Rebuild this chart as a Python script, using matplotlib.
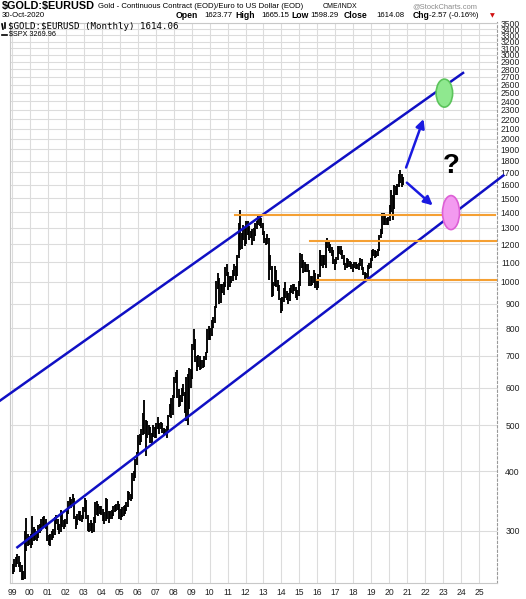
"""Gold priced in euros, monthly bars with channel/annotation overlay - saved as out.png."""

import numpy as np
import matplotlib.pyplot as plt
from matplotlib.patches import Ellipse

# monthly bars, Jan 1999 .. Oct 2020 (EUR per oz)
FIRST_YEAR = 1999
LOWS = [
    243, 246, 252, 255, 252, 246, 236, 236, 238, 272, 279, 280,   # 1999
    276, 280, 286, 287, 285, 290, 297, 300, 306, 305, 302, 286,   # 2000
    280, 279, 287, 290, 294, 310, 301, 296, 298, 305, 303, 305,   # 2001
    310, 325, 336, 335, 338, 318, 302, 308, 316, 314, 313, 318,   # 2002
    328, 318, 300, 298, 300, 297, 298, 312, 324, 322, 325, 324,   # 2003
    315, 310, 315, 318, 312, 318, 318, 322, 328, 330, 332, 318,   # 2004
    316, 320, 322, 326, 330, 336, 348, 346, 350, 382, 388, 412,   # 2005
    430, 455, 460, 478, 480, 431, 470, 476, 458, 455, 472, 470,   # 2006
    470, 492, 480, 492, 482, 474, 476, 470, 488, 520, 518, 525,   # 2007
    570, 612, 570, 545, 548, 560, 575, 530, 510, 500, 540, 600,   # 2008
    625, 720, 680, 650, 662, 654, 656, 660, 664, 686, 710, 755,   # 2009
    755, 770, 800, 820, 880, 965, 900, 905, 950, 940, 975, 1030,  # 2010
    960, 975, 995, 1005, 1030, 1010, 1030, 1125, 1170, 1175, 1225, 1190,  # 2011
    1200, 1255, 1225, 1235, 1195, 1220, 1250, 1290, 1320, 1310, 1300, 1255,  # 2012
    1210, 1195, 1200, 1010, 1060, 930, 935, 980, 975, 955, 915, 862,  # 2013
    868, 908, 925, 918, 900, 910, 950, 945, 955, 925, 915, 935,   # 2014
    980, 1072, 1045, 1050, 1050, 1050, 980, 980, 985, 995, 970, 962,  # 2015
    970, 1025, 1080, 1070, 1085, 1070, 1180, 1160, 1150, 1135, 1090, 1060,  # 2016
    1090, 1110, 1145, 1140, 1115, 1085, 1060, 1070, 1075, 1075, 1065, 1050,  # 2017
    1070, 1065, 1065, 1060, 1080, 1060, 1035, 1015, 1020, 1020, 1065, 1070,  # 2018
    1105, 1135, 1125, 1130, 1135, 1160, 1235, 1260, 1320, 1320, 1315, 1320,  # 2019
    1345, 1400, 1350, 1425, 1525, 1525, 1580, 1615, 1585, 1598,   # 2020
]
HIGHS = [
    255, 262, 264, 268, 266, 258, 254, 247, 300, 319, 296, 292,   # 1999
    296, 322, 305, 302, 300, 309, 310, 318, 320, 322, 318, 312,   # 2000
    294, 296, 300, 302, 320, 324, 318, 310, 332, 326, 316, 318,   # 2001
    332, 346, 354, 350, 358, 352, 322, 325, 330, 330, 324, 336,   # 2002
    352, 348, 324, 312, 316, 312, 320, 344, 346, 342, 338, 338,   # 2003
    334, 328, 352, 350, 330, 330, 332, 338, 340, 342, 346, 342,   # 2004
    334, 336, 338, 340, 345, 364, 362, 358, 396, 400, 424, 440,   # 2005
    478, 480, 490, 530, 566, 512, 510, 500, 495, 482, 500, 495,   # 2006
    506, 520, 506, 508, 506, 494, 492, 498, 526, 555, 570, 580,   # 2007
    630, 648, 652, 595, 580, 598, 610, 588, 630, 640, 660, 655,   # 2008
    740, 797, 760, 700, 702, 700, 685, 685, 700, 712, 795, 810,   # 2009
    800, 830, 845, 890, 1005, 1045, 1020, 990, 990, 1000, 1075, 1090,  # 2010
    1050, 1030, 1030, 1060, 1090, 1080, 1140, 1330, 1420, 1270, 1320, 1300,  # 2011
    1345, 1340, 1310, 1280, 1290, 1300, 1330, 1345, 1385, 1385, 1360, 1330,  # 2012
    1280, 1240, 1260, 1235, 1140, 1080, 1000, 1080, 1060, 1010, 985, 925,  # 2013
    930, 970, 1000, 955, 950, 970, 985, 992, 990, 975, 960, 1005,  # 2014
    1150, 1145, 1110, 1100, 1090, 1090, 1060, 1030, 1030, 1060, 1045, 1010,  # 2015
    1040, 1170, 1140, 1140, 1140, 1225, 1235, 1215, 1200, 1185, 1170, 1120,  # 2016
    1130, 1190, 1190, 1190, 1170, 1140, 1095, 1125, 1120, 1105, 1100, 1090,  # 2017
    1100, 1100, 1092, 1095, 1125, 1115, 1075, 1050, 1045, 1085, 1095, 1125,  # 2018
    1165, 1175, 1165, 1160, 1175, 1255, 1290, 1395, 1395, 1380, 1360, 1370,  # 2019
    1450, 1560, 1520, 1600, 1590, 1610, 1690, 1720, 1690, 1665,   # 2020
]

# hand-drawn overlay: (year, price) pairs
UPPER_CHANNEL = [(1998.33, 563), (2024.11, 2750)]
LOWER_CHANNEL = [(1999.30, 277), (2026.35, 1674)]
SUPPORT_LINES = [  # (price, x start, x end)
    (1383, 2011.42, 2025.89),
    (1218, 2015.59, 2026.06),
    (1010, 2015.96, 2026.06),
]
ARROW_UP = [(2020.94, 1740), (2021.91, 2200)]
ARROW_DOWN = [(2020.98, 1617), (2022.42, 1449)]
TARGET_HIGH = (2023.07, 2494)
TARGET_LOW = (2023.44, 1399)
QUESTION_AT = (2023.46, 1757)

YEARS = list(range(1999, 2026))
YEAR_LABELS = [f"{y % 100:02d}" for y in YEARS]
PRICE_TICKS = [300, 400, 500, 600, 700, 800, 900] + list(range(1000, 3600, 100))

BLUE = "#1010c4"
ORANGE = "#f5a033"
GRID = "#dcdcdc"
W, H = 526, 599


def main():
    plt.rcParams.update({
        "font.family": ["Liberation Sans", "DejaVu Sans"],
    })

    fig = plt.figure(figsize=(W / 100, H / 100), dpi=100)
    ax = fig.add_axes([10 / W, 1 - 583 / H, 487 / W, (583 - 22.5) / H])

    ax.set_yscale("log")
    ax.set_xlim(1998.89, 2026.0)
    ax.set_ylim(233, 3510)

    # price bars
    n = len(LOWS)
    xs = FIRST_YEAR + (np.arange(n) + 0.5) / 12
    ax.vlines(xs, LOWS, HIGHS, color="black", linewidth=1.35, zorder=3)

    # channel
    for line in (UPPER_CHANNEL, LOWER_CHANNEL):
        (x0, y0), (x1, y1) = line
        ax.plot([x0, x1], [y0, y1], color=BLUE, linewidth=1.8,
                clip_on=False, zorder=4)

    for price, x0, x1 in SUPPORT_LINES:
        ax.plot([x0, x1], [price, price], color=ORANGE, linewidth=1.5, zorder=4)

    for (x0, y0), (x1, y1) in (ARROW_UP, ARROW_DOWN):
        ax.annotate("", xy=(x1, y1), xytext=(x0, y0),
                    arrowprops=dict(arrowstyle="-|>", color="#1a1ae0", lw=1.8,
                                    mutation_scale=13, shrinkA=0, shrinkB=0),
                    zorder=5)

    # target ellipses, sized in axes fraction so they stay round-ish on log scale
    to_axes = ax.transData + ax.transAxes.inverted()
    ax_w = 487.0
    ax_h = 583 - 22.5
    for (cx, cy), (w, h), fc, ec in (
        (TARGET_HIGH, (16.5, 28), "#8fe88f", "#5cc45c"),
        (TARGET_LOW, (17, 34), "#f39af0", "#dd5fd6"),
    ):
        ex, ey = to_axes.transform((cx, cy))
        ax.add_patch(Ellipse((ex, ey), w / ax_w, h / ax_h, transform=ax.transAxes,
                             facecolor=fc, edgecolor=ec, linewidth=1.2, zorder=5))

    ax.text(QUESTION_AT[0], QUESTION_AT[1], "?", fontsize=20, fontweight="bold",
            ha="center", va="center", color="black", zorder=6)

    # axes styling
    ax.set_xticks(YEARS)
    ax.set_xticklabels(YEAR_LABELS)
    ax.set_yticks(PRICE_TICKS)
    ax.set_yticklabels([str(v) for v in PRICE_TICKS])
    ax.minorticks_off()
    ax.yaxis.tick_right()
    ax.tick_params(axis="y", length=0, pad=16.5, labelsize=6.2, labelcolor="#222222")
    ax.tick_params(axis="x", length=0, pad=3.5, labelsize=6.2, labelcolor="#222222")
    for lab in ax.get_yticklabels():
        lab.set_horizontalalignment("right")

    ax.grid(True, color=GRID, linewidth=0.8, zorder=0)
    ax.set_axisbelow(True)
    for side in ("top", "left", "bottom"):
        ax.spines[side].set_color("#c8c8c8")
        ax.spines[side].set_linewidth(0.8)
    ax.spines["right"].set_color("#9a9a9a")
    ax.spines["right"].set_linestyle((0, (2, 2)))
    ax.spines["right"].set_linewidth(0.8)

    # header
    def px(x, y):
        return x / W, 1 - y / H

    fig.text(*px(2, 6.5), "$GOLD:$EURUSD", fontsize=7.8, fontweight="bold",
             va="center", ha="left", parse_math=False)
    fig.text(*px(98, 7), "Gold - Continuous Contract (EOD)/Euro to US Dollar (EOD)",
             fontsize=5.6, va="center", ha="left")
    fig.text(*px(323, 7), "CME/INDX", fontsize=5.0, va="center", ha="left")
    fig.text(*px(477, 7), "@StockCharts.com", fontsize=5.4, va="center",
             ha="right", color="#8a8a8a")

    fig.text(*px(2, 15.5), "30-Oct-2020", fontsize=5.6, va="center", ha="left")
    row = [
        (175.7, "Open", True), (204, "1623.77", False),
        (235, "High", True), (261.7, "1665.15", False),
        (291, "Low", True), (310.7, "1598.29", False),
        (343.3, "Close", True), (376.7, "1614.08", False),
        (412.7, "Chg", True), (429, "-2.57 (-0.16%)", False),
    ]
    for x, s, bold in row:
        fig.text(*px(x, 15.5), s, fontsize=6.2 if bold else 5.6,
                 fontweight="bold" if bold else "normal", va="center", ha="left")
    fig.text(*px(490, 15.5), "\u25bc", fontsize=4.5, color="#d01010",
             va="center", ha="left", family="DejaVu Sans")

    # in-plot legend
    fig.text(*px(8, 26.5), "$GOLD:$EURUSD (Monthly) 1614.06", fontsize=6.6,
             family="DejaVu Sans Mono", va="center", ha="left", parse_math=False)
    fig.lines.append(plt.Line2D([2 / W, 3 / W], [1 - 24 / H, 1 - 29 / H],
                                transform=fig.transFigure, color="black", lw=1.2))
    fig.lines.append(plt.Line2D([4.5 / W, 4.5 / W], [1 - 23 / H, 1 - 28 / H],
                                transform=fig.transFigure, color="black", lw=1.2))
    fig.lines.append(plt.Line2D([2 / W, 7 / W], [1 - 34.5 / H, 1 - 34.5 / H],
                                transform=fig.transFigure, color="black", lw=1.2))
    fig.text(*px(9, 34.5), "$SPX 3269.96", fontsize=5.2, va="center", ha="left",
             parse_math=False)

    fig.savefig("out.png", dpi=100)


if __name__ == '__main__':
    main()
